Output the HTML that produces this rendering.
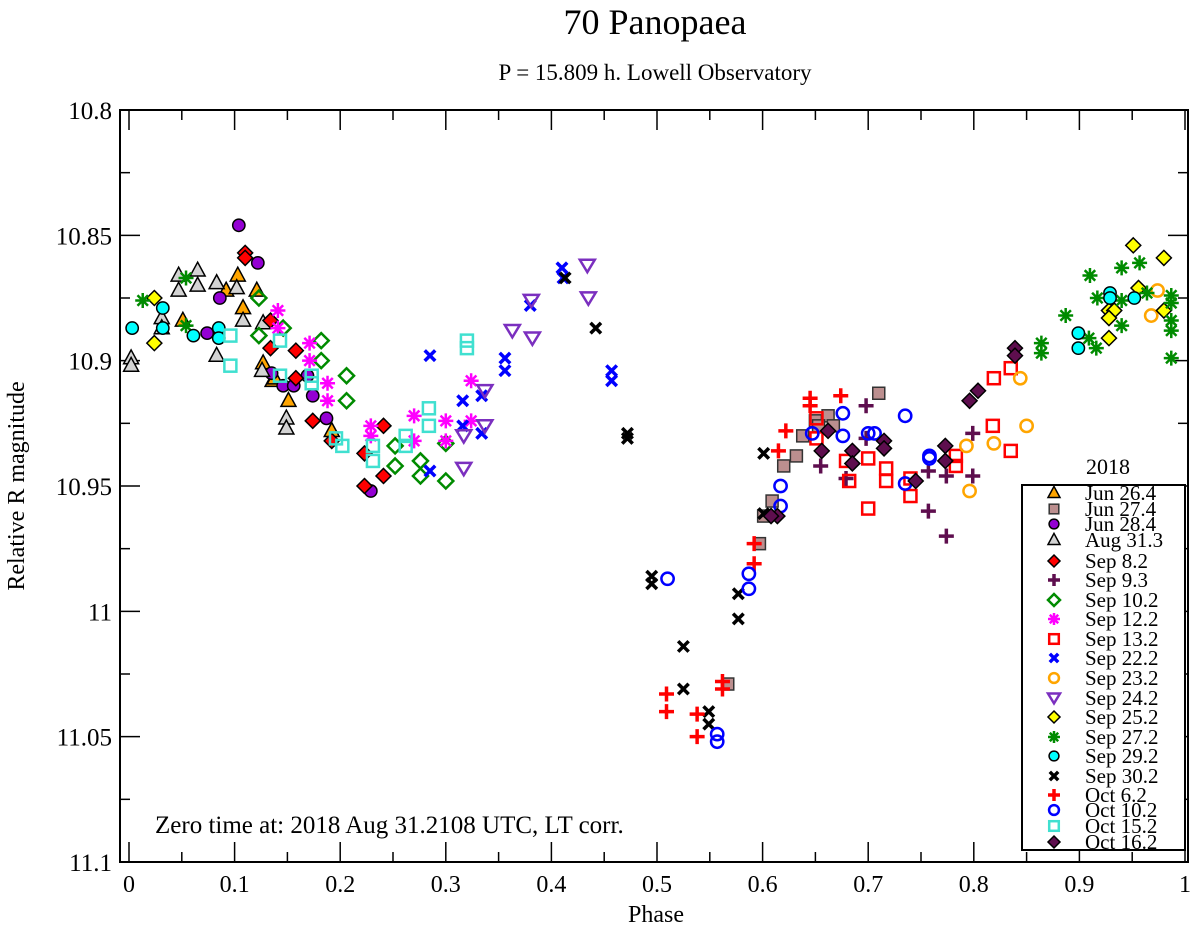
<!DOCTYPE html>
<html><head><meta charset="utf-8"><style>
html,body{margin:0;padding:0;background:#fff;}
svg{display:block;font-family:"Liberation Serif",serif;}
</style></head><body>
<svg id="chart" width="1200" height="930" viewBox="0 0 1200 930" xmlns="http://www.w3.org/2000/svg">
<text x="655" y="34" font-size="36" text-anchor="middle">70 Panopaea</text>
<text x="655" y="80" font-size="23" text-anchor="middle">P = 15.809 h. Lowell Observatory</text>
<g id="axes"></g>
<g id="marks"></g>
<text x="155" y="833" font-size="25">Zero time at: 2018 Aug 31.2108 UTC, LT corr.</text>
<text x="656" y="922" font-size="24" text-anchor="middle">Phase</text>
<text transform="translate(24,486) rotate(-90)" font-size="24" text-anchor="middle">Relative R magnitude</text>
<g id="legend"></g>
</svg>
<script>
const xTicks=[0,0.1,0.2,0.3,0.4,0.5,0.6,0.7,0.8,0.9,1];
const xTickLabels=["0","0.1","0.2","0.3","0.4","0.5","0.6","0.7","0.8","0.9","1"];
const yTicks=[10.8,10.85,10.9,10.95,11,11.05,11.1];
const yTickLabels=["10.8","10.85","10.9","10.95","11","11.05","11.1"];
const seriesNames=["Jun 26.4","Jun 27.4","Jun 28.4","Aug 31.3","Sep 8.2","Sep 9.3","Sep 10.2","Sep 12.2","Sep 13.2","Sep 22.2","Sep 23.2","Sep 24.2","Sep 25.2","Sep 27.2","Sep 29.2","Sep 30.2","Oct 6.2","Oct 10.2","Oct 15.2","Oct 16.2"];
const jun264Phase=[0.051,0.092,0.103,0.108,0.121,0.127,0.136,0.151,0.192,0.138];
const jun264Mag=[10.884,10.872,10.866,10.879,10.872,10.901,10.908,10.916,10.928,10.907];
const jun274Phase=[0.710,0.662,0.650,0.667,0.638,0.632,0.620,0.609,0.601,0.597,0.567,0.653];
const jun274Mag=[10.913,10.922,10.924,10.926,10.930,10.938,10.942,10.956,10.962,10.973,11.029,10.926];
const jun284Phase=[0.104,0.122,0.086,0.074,0.135,0.146,0.156,0.169,0.174,0.187,0.229];
const jun284Mag=[10.846,10.861,10.875,10.889,10.905,10.910,10.910,10.906,10.914,10.923,10.952];
const aug313Phase=[0.002,0.002,0.031,0.031,0.047,0.047,0.065,0.065,0.083,0.102,0.108,0.083,0.127,0.126,0.149,0.149];
const aug313Mag=[10.899,10.902,10.883,10.887,10.866,10.872,10.864,10.870,10.869,10.871,10.884,10.898,10.885,10.904,10.923,10.927];
const sep82Phase=[0.110,0.110,0.134,0.134,0.158,0.158,0.174,0.192,0.223,0.241,0.223,0.241];
const sep82Mag=[10.857,10.859,10.884,10.895,10.896,10.907,10.924,10.932,10.937,10.926,10.950,10.946];
const sep93Phase=[0.698,0.698,0.655,0.757,0.757,0.774,0.774,0.799,0.799,0.679];
const sep93Mag=[10.918,10.931,10.942,10.944,10.960,10.946,10.970,10.929,10.946,10.947];
const sep102Phase=[0.123,0.146,0.123,0.182,0.182,0.206,0.206,0.252,0.252,0.276,0.276,0.300,0.300];
const sep102Mag=[10.875,10.887,10.890,10.892,10.900,10.906,10.916,10.934,10.942,10.940,10.946,10.948,10.933];
const sep122Phase=[0.141,0.141,0.171,0.171,0.188,0.188,0.229,0.229,0.270,0.270,0.300,0.300,0.324,0.324];
const sep122Mag=[10.880,10.887,10.893,10.900,10.909,10.916,10.926,10.930,10.922,10.932,10.924,10.932,10.908,10.924];
const sep132Phase=[0.651,0.651,0.700,0.717,0.717,0.682,0.700,0.740,0.740,0.783,0.783,0.818,0.835,0.819,0.835,0.679];
const sep132Mag=[10.923,10.931,10.939,10.943,10.948,10.948,10.959,10.947,10.954,10.938,10.942,10.926,10.936,10.907,10.903,10.940];
const sep222Phase=[0.285,0.285,0.316,0.316,0.334,0.334,0.356,0.356,0.380,0.410,0.411,0.457,0.457];
const sep222Mag=[10.898,10.944,10.916,10.926,10.914,10.929,10.899,10.904,10.878,10.863,10.867,10.904,10.908];
const sep232Phase=[0.974,0.968,0.844,0.793,0.819,0.850,0.796];
const sep232Mag=[10.872,10.882,10.907,10.934,10.933,10.926,10.952];
const sep242Phase=[0.317,0.317,0.337,0.337,0.363,0.382,0.381,0.434,0.435];
const sep242Mag=[10.943,10.930,10.912,10.926,10.888,10.891,10.876,10.862,10.875];
const sep252Phase=[0.951,0.980,0.928,0.933,0.928,0.956,0.980,0.928,0.024,0.024];
const sep252Mag=[10.854,10.859,10.880,10.880,10.883,10.871,10.880,10.891,10.875,10.893];
const sep272Phase=[0.910,0.940,0.957,0.917,0.940,0.964,0.987,0.987,0.987,0.987,0.940,0.887,0.909,0.916,0.864,0.864,0.987,0.013,0.054,0.054];
const sep272Mag=[10.866,10.863,10.861,10.875,10.876,10.873,10.874,10.877,10.884,10.888,10.886,10.882,10.891,10.895,10.893,10.897,10.899,10.876,10.867,10.886];
const sep292Phase=[0.929,0.929,0.952,0.899,0.899,0.003,0.032,0.032,0.061,0.085,0.085];
const sep292Mag=[10.873,10.875,10.875,10.889,10.895,10.887,10.879,10.887,10.890,10.887,10.891];
const sep302Phase=[0.495,0.495,0.525,0.525,0.549,0.549,0.577,0.577,0.472,0.472,0.601,0.413,0.442,0.601];
const sep302Mag=[10.986,10.989,11.014,11.031,11.040,11.045,10.993,11.003,10.929,10.931,10.937,10.867,10.887,10.961];
const oct62Phase=[0.509,0.509,0.538,0.538,0.562,0.562,0.592,0.592,0.645,0.645,0.674,0.622,0.615];
const oct62Mag=[11.033,11.040,11.041,11.050,11.028,11.031,10.981,10.973,10.915,10.918,10.914,10.928,10.936];
const oct102Phase=[0.676,0.647,0.676,0.700,0.706,0.735,0.758,0.758,0.735,0.617,0.617,0.510,0.587,0.587,0.557,0.557];
const oct102Mag=[10.921,10.929,10.930,10.929,10.929,10.922,10.938,10.939,10.949,10.950,10.958,10.987,10.985,10.991,11.049,11.052];
const oct152Phase=[0.096,0.096,0.143,0.143,0.173,0.173,0.196,0.202,0.231,0.231,0.262,0.262,0.284,0.284,0.320,0.320];
const oct152Mag=[10.890,10.902,10.892,10.906,10.906,10.909,10.931,10.934,10.934,10.940,10.930,10.934,10.919,10.926,10.892,10.895];
const oct162Phase=[0.839,0.839,0.804,0.796,0.662,0.656,0.685,0.685,0.715,0.715,0.773,0.773,0.745,0.614,0.608];
const oct162Mag=[10.895,10.898,10.912,10.916,10.928,10.936,10.936,10.941,10.932,10.935,10.934,10.940,10.948,10.962,10.962];

const NS="http://www.w3.org/2000/svg";
const L=120,R=1188,T=110,B=862,X0=129,X1=1185;
function xs(p){return X0+(X1-X0)*p;}
function ys(m){return T+(B-T)*(m-10.8)/0.3;}
function mk(tag,attrs,parent){const e=document.createElementNS(NS,tag);for(const k in attrs)e.setAttribute(k,attrs[k]);parent.appendChild(e);return e;}

const axes=document.getElementById('axes');
const frame=mk('rect',{x:L,y:T,width:R-L,height:B-T,fill:'none',stroke:'#000','stroke-width':2},axes);


for(let i=0;i<=20;i++){
  const p=i*0.05,x=xs(p),len=(i%2===0)?20:10;
  const t1=mk('line',{x1:x,y1:B,x2:x,y2:B-len,stroke:'#000','stroke-width':1.5},axes);
  
  
  const t2=mk('line',{x1:x,y1:T,x2:x,y2:T+len,stroke:'#000','stroke-width':1.5},axes);
  
  
}
for(let i=0;i<=12;i++){
  const m=10.8+i*0.025,y=ys(m),len=(i%2===0)?20:10;
  const t1=mk('line',{x1:L,y1:y,x2:L+len,y2:y,stroke:'#000','stroke-width':1.5},axes);
  
  
  const t2=mk('line',{x1:R,y1:y,x2:R-len,y2:y,stroke:'#000','stroke-width':1.5},axes);
  
  
}
xTicks.forEach((p,i)=>{
  const t=mk('text',{x:xs(p),y:B+30,'font-size':24,'text-anchor':'middle'},axes);
  t.textContent=xTickLabels[i];
  
  
});
yTicks.forEach((m,i)=>{
  const t=mk('text',{x:L-8,y:ys(m)+9,'font-size':25,'text-anchor':'end'},axes);
  t.textContent=yTickLabels[i];
  
  
});

const styles=[
 {s:'tri',f:'#ffa500',k:'#000'},{s:'sq',f:'#bc8f8f',k:'#333'},{s:'circ',f:'#9400d3',k:'#000'},{s:'tri',f:'#d3d3d3',k:'#000'},
 {s:'dia',f:'#ff0000',k:'#000'},{s:'plus',f:'none',k:'#5e0e4e'},{s:'dia',f:'none',k:'#008b00'},{s:'star',f:'none',k:'#ff00ff'},
 {s:'sq',f:'none',k:'#ff0000'},{s:'x',f:'none',k:'#0000ff'},{s:'circ',f:'none',k:'#ffa500'},{s:'dtri',f:'none',k:'#7b2fbf'},
 {s:'dia',f:'#ffff00',k:'#000'},{s:'star',f:'none',k:'#008b00'},{s:'circ',f:'#00ffff',k:'#000'},{s:'x',f:'none',k:'#000'},
 {s:'plus',f:'none',k:'#ff0000'},{s:'circ',f:'none',k:'#0000ff'},{s:'sq',f:'none',k:'#40e0d0'},{s:'dia',f:'#5e0e4e',k:'#000'}];
const phases=[jun264Phase,jun274Phase,jun284Phase,aug313Phase,sep82Phase,sep93Phase,sep102Phase,sep122Phase,sep132Phase,sep222Phase,sep232Phase,sep242Phase,sep252Phase,sep272Phase,sep292Phase,sep302Phase,oct62Phase,oct102Phase,oct152Phase,oct162Phase];
const mags=[jun264Mag,jun274Mag,jun284Mag,aug313Mag,sep82Mag,sep93Mag,sep102Mag,sep122Mag,sep132Mag,sep222Mag,sep232Mag,sep242Mag,sep252Mag,sep272Mag,sep292Mag,sep302Mag,oct62Mag,oct102Mag,oct152Mag,oct162Mag];

function marker(st,x,y,r,parent){
  const g=mk('g',{},parent);
  const sw=(st.f==='none')?2.5:1.5;
  const base={fill:st.f,stroke:st.k,'stroke-width':sw};
  if(st.s==='tri'){mk('polygon',Object.assign({points:`${x},${y-r*1.1} ${x-r},${y+r*0.75} ${x+r},${y+r*0.75}`},base),g);}
  else if(st.s==='dtri'){mk('polygon',Object.assign({points:`${x},${y+r*0.9} ${x-r},${y-r*0.75} ${x+r},${y-r*0.75}`},base),g);}
  else if(st.s==='sq'){const h=r*0.8;mk('rect',Object.assign({x:x-h,y:y-h,width:2*h,height:2*h},base),g);}
  else if(st.s==='circ'){mk('circle',Object.assign({cx:x,cy:y,r:r*0.82},base),g);}
  else if(st.s==='dia'){mk('polygon',Object.assign({points:`${x},${y-r} ${x+r},${y} ${x},${y+r} ${x-r},${y}`},base),g);}
  else if(st.s==='plus'){mk('path',{d:`M${x-r},${y}H${x+r}M${x},${y-r}V${y+r}`,stroke:st.k,'stroke-width':3.5,fill:'none'},g);}
  else if(st.s==='x'){const h=r*0.7;mk('path',{d:`M${x-h},${y-h}L${x+h},${y+h}M${x-h},${y+h}L${x+h},${y-h}`,stroke:st.k,'stroke-width':3.5,fill:'none'},g);}
  else if(st.s==='star'){const h=r*0.7;mk('path',{d:`M${x-r},${y}H${x+r}M${x},${y-r}V${y+r}M${x-h},${y-h}L${x+h},${y+h}M${x-h},${y+h}L${x+h},${y-h}`,stroke:st.k,'stroke-width':2.5,fill:'none'},g);}
  return g;
}
const marks=document.getElementById('marks');
phases.forEach((ph,si)=>{
  ph.forEach((p,i)=>{
    const g=marker(styles[si],xs(p),ys(mags[si][i]),7.5,marks);
    
    
  });
});

const legend=document.getElementById('legend');
const lt=mk('text',{x:1108,y:474,'font-size':22,'text-anchor':'middle'},legend);
lt.textContent='2018';


const lb=mk('rect',{x:1022,y:485,width:163,height:365,fill:'#fff',stroke:'#000','stroke-width':2},legend);


const legY=[493,509,524,540,561,580,600,619,639,658,678,698,717,737,756,776,795,810,826,842];
seriesNames.forEach((n,i)=>{
  const g=mk('g',{},legend);
  
  
  marker(styles[i],1054,legY[i],6,g);
  const t=mk('text',{x:1085,y:legY[i]+7,'font-size':21},g);
  t.textContent=n;
});
</script>
</body></html>
